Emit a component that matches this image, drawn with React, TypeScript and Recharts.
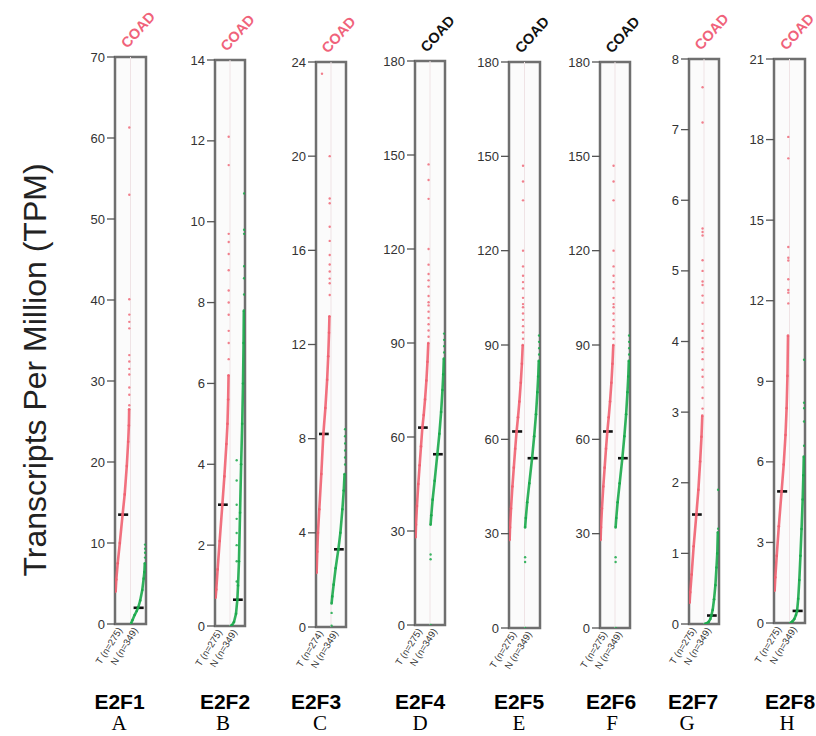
import React from 'react';
import { ScatterChart, Scatter, XAxis, YAxis, ReferenceArea, ReferenceLine } from 'recharts';

// each point is [rank inside its group 0..1, TPM]
type Pt = [number, number];

const genes = ['E2F1', 'E2F2', 'E2F3', 'E2F4', 'E2F5', 'E2F6', 'E2F7', 'E2F8'];
const letters = ['A', 'B', 'C', 'D', 'E', 'F', 'G', 'H'];
const tumorCounts = [275, 275, 274, 275, 275, 275, 275, 275];
const normalCounts = [349, 349, 349, 349, 349, 349, 349, 349];
const cancerType = 'COAD';
// COAD written in red where the gene is significantly different
const highlighted = [true, true, true, false, false, false, true, true];

const yMax = [70, 14, 24, 180, 180, 180, 8, 21];
const yTicks = [
  [0, 10, 20, 30, 40, 50, 60, 70],
  [0, 2, 4, 6, 8, 10, 12, 14],
  [0, 4, 8, 12, 16, 20, 24],
  [0, 30, 60, 90, 120, 150, 180],
  [0, 30, 60, 90, 120, 150, 180],
  [0, 30, 60, 90, 120, 150, 180],
  [0, 1, 2, 3, 4, 5, 6, 7, 8],
  [0, 3, 6, 9, 12, 15, 18, 21],
];

const tumorMedian = [13.5, 3.0, 8.2, 63, 62.5, 62.5, 1.55, 4.9];
const normalMedian = [2.0, 0.65, 3.3, 54.5, 54, 54, 0.12, 0.45];

const tumorStrip: Pt[][] = [
  [[0, 4], [0.05, 5.5], [0.15, 7.5], [0.3, 10], [0.5, 13.5], [0.65, 16], [0.8, 19.5], [0.9, 22.5], [0.95, 24.5], [0.97, 26.5]],
  [[0, 0.7], [0.05, 0.9], [0.15, 1.4], [0.3, 2.1], [0.5, 3.0], [0.65, 3.7], [0.8, 4.5], [0.88, 5.0], [0.93, 5.6], [0.96, 6.2]],
  [[0, 2.3], [0.05, 3.2], [0.1, 4.0], [0.2, 5.0], [0.35, 6.5], [0.5, 8.2], [0.65, 9.3], [0.78, 10.5], [0.86, 11.5], [0.92, 12.5], [0.95, 13.2]],
  [[0, 28], [0.03, 32], [0.1, 38], [0.2, 45], [0.3, 51], [0.4, 57], [0.5, 63], [0.6, 67], [0.7, 72], [0.8, 78], [0.88, 84], [0.94, 90]],
  [[0, 28], [0.03, 32], [0.1, 38], [0.2, 45], [0.3, 51], [0.4, 57], [0.5, 62.5], [0.6, 67], [0.7, 72], [0.8, 78], [0.88, 84], [0.94, 90]],
  [[0, 28], [0.03, 32], [0.1, 38], [0.2, 45], [0.3, 51], [0.4, 57], [0.5, 62.5], [0.6, 67], [0.7, 72], [0.8, 78], [0.88, 84], [0.94, 90]],
  [[0, 0.3], [0.05, 0.45], [0.15, 0.7], [0.3, 1.1], [0.5, 1.55], [0.65, 1.9], [0.78, 2.3], [0.88, 2.65], [0.94, 2.95]],
  [[0, 1.2], [0.05, 1.7], [0.15, 2.5], [0.3, 3.6], [0.5, 4.9], [0.65, 5.9], [0.78, 7.0], [0.86, 8.0], [0.92, 9.2], [0.96, 10.7]],
];

const tumorOutliers: Pt[][] = [
  [[0.98, 27], [0.98, 28.3], [0.98, 29.2], [0.98, 30.8], [0.98, 31.5], [0.98, 32.4], [0.98, 33.2], [0.98, 36.5], [0.98, 37.3], [0.98, 38.2], [0.98, 40.1], [0.98, 53], [0.98, 61.3]],
  [[0.97, 6.6], [0.97, 7.0], [0.97, 7.3], [0.97, 7.7], [0.97, 8.0], [0.97, 8.3], [0.97, 8.8], [0.97, 9.2], [0.97, 9.5], [0.97, 9.7], [0.97, 11.4], [0.97, 12.1]],
  [[0.97, 14.1], [0.97, 14.6], [0.97, 14.8], [0.97, 15.1], [0.97, 15.4], [0.97, 15.8], [0.97, 16.4], [0.97, 17.0], [0.97, 18.0], [0.97, 18.2], [0.97, 20.0], [0.4, 23.5]],
  [[0.96, 92], [0.96, 94], [0.96, 96], [0.96, 98], [0.96, 100], [0.96, 102], [0.96, 103], [0.96, 105], [0.96, 108], [0.96, 110], [0.96, 112], [0.96, 115], [0.96, 120], [0.96, 136], [0.96, 142], [0.96, 147]],
  [[0.96, 92], [0.96, 94], [0.96, 96], [0.96, 98], [0.96, 100], [0.96, 102], [0.96, 103], [0.96, 105], [0.96, 108], [0.96, 110], [0.96, 112], [0.96, 115], [0.96, 120], [0.96, 136], [0.96, 142], [0.96, 147]],
  [[0.96, 92], [0.96, 94], [0.96, 96], [0.96, 98], [0.96, 100], [0.96, 102], [0.96, 103], [0.96, 105], [0.96, 108], [0.96, 110], [0.96, 112], [0.96, 115], [0.96, 120], [0.96, 136], [0.96, 142], [0.96, 147]],
  [[0.96, 3.05], [0.96, 3.2], [0.96, 3.35], [0.96, 3.5], [0.96, 3.6], [0.96, 3.75], [0.96, 3.85], [0.96, 3.9], [0.96, 4.05], [0.96, 4.15], [0.96, 4.25], [0.96, 4.55], [0.96, 4.65], [0.96, 4.8], [0.96, 4.85], [0.96, 5.0], [0.96, 5.15], [0.96, 5.5], [0.96, 5.55], [0.96, 5.6], [0.96, 7.1], [0.96, 7.6]],
  [[0.98, 11.9], [0.98, 12.3], [0.98, 12.4], [0.98, 12.8], [0.98, 13.5], [0.98, 13.6], [0.98, 14.0], [0.98, 17.3], [0.98, 18.1]],
];

const normalStrip: Pt[][] = [
  [[0, 0.1], [0.1, 0.5], [0.25, 1.1], [0.4, 1.6], [0.5, 2.0], [0.65, 2.9], [0.8, 4.2], [0.9, 5.6], [0.95, 6.4], [0.98, 7.5]],
  [[0, 0], [0.1, 0.02], [0.25, 0.1], [0.4, 0.3], [0.5, 0.65], [0.55, 1.0], [0.62, 1.6], [0.7, 2.8], [0.78, 4.0], [0.86, 5.0], [0.92, 6.0], [0.96, 7.0], [0.98, 7.8]],
  [[0, 1.0], [0.05, 1.3], [0.15, 1.8], [0.3, 2.5], [0.5, 3.3], [0.65, 4.0], [0.8, 5.0], [0.9, 5.8], [0.96, 6.5]],
  [[0, 32], [0.05, 35], [0.15, 40], [0.3, 46], [0.5, 54.5], [0.65, 61], [0.78, 68], [0.88, 75], [0.94, 80], [0.98, 85]],
  [[0, 32], [0.05, 35], [0.15, 40], [0.3, 46], [0.5, 54], [0.65, 61], [0.78, 68], [0.88, 75], [0.94, 80], [0.98, 85]],
  [[0, 32], [0.05, 35], [0.15, 40], [0.3, 46], [0.5, 54], [0.65, 61], [0.78, 68], [0.88, 75], [0.94, 80], [0.98, 85]],
  [[0, 0], [0.15, 0.01], [0.3, 0.03], [0.42, 0.07], [0.5, 0.12], [0.6, 0.2], [0.7, 0.35], [0.8, 0.55], [0.88, 0.8], [0.94, 1.0], [0.98, 1.3]],
  [[0, 0], [0.15, 0.05], [0.3, 0.15], [0.42, 0.3], [0.5, 0.45], [0.58, 0.9], [0.66, 1.6], [0.74, 2.5], [0.82, 3.5], [0.9, 4.6], [0.95, 5.5], [0.98, 6.2]],
];

const normalOutliers: Pt[][] = [
  [[1, 8.2], [1, 8.8], [1, 9.3], [1, 9.8]],
  [[0.45, 1.1], [0.45, 1.6], [0.45, 2.0], [0.45, 2.3], [0.45, 2.65], [0.45, 3.0], [0.45, 3.6], [0.45, 4.1], [1, 8.2], [1, 8.6], [1, 8.9], [1, 9.7], [1, 9.8], [1, 10.7]],
  [[0, 0.05], [0, 0.6], [1, 6.9], [1, 7.2], [1, 7.5], [1, 7.8], [1, 8.1], [1, 8.4]],
  [[0, 0], [0, 21], [0, 22.5], [1, 87], [1, 89], [1, 91], [1, 93]],
  [[0, 0], [0, 21], [0, 22.5], [1, 87], [1, 89], [1, 91], [1, 93]],
  [[0, 0], [0, 21], [0, 22.5], [1, 87], [1, 89], [1, 91], [1, 93]],
  [[1, 1.35], [1, 1.9]],
  [[1, 6.6], [1, 7.5], [1, 8.0], [1, 8.2], [1, 9.8]],
];

// page layout of each panel's frame, in pixels
const boxes = [
  { left: 115, right: 146, top: 57, bottom: 624 },
  { left: 215, right: 245, top: 60, bottom: 626 },
  { left: 316, right: 346, top: 62, bottom: 627 },
  { left: 415, right: 445, top: 61, bottom: 625 },
  { left: 509, right: 540, top: 62, bottom: 628 },
  { left: 600, right: 630, top: 62, bottom: 628 },
  { left: 689, right: 719, top: 59, bottom: 624 },
  { left: 774, right: 805, top: 59, bottom: 623 },
];
const geneX = [119.5, 225, 316, 420, 519, 611, 693, 790];
const letterX = [119, 223, 320, 420, 519, 612, 687, 787];

const RED = '#ef6070';
const GREEN = '#1aa94a';
const COAD_RED = '#f0627a';
const SANS = '"Liberation Sans", Arial, Helvetica, sans-serif';
const SERIF = '"Liberation Serif", "Times New Roman", serif';
const H = 736;
const AXIS_W = 44;
const XAXIS_H = 60;

const toPoints = (pts: Pt[], group: number) =>
  pts.map(([r, v]) => ({ x: group + 0.04 + r * 0.9, y: v }));

const dot = (fill: string, r: number, opacity: number) => (props: any) =>
  props.cx == null ? <g /> : <circle cx={props.cx} cy={props.cy} r={r} fill={fill} fillOpacity={opacity} />;

function Panel({ i }: { i: number }) {
  const box = boxes[i];
  const w = box.right - box.left;
  const chartW = AXIS_W + w + 4;
  const max = yMax[i];
  const sampleLabels = [`T (n=${tumorCounts[i]})`, `N (n=${normalCounts[i]})`];

  const SampleTick = (props: any) => {
    const { x, payload } = props;
    const y = box.bottom + 6;
    const label = payload.value < 1 ? sampleLabels[0] : sampleLabels[1];
    return (
      <text
        x={x}
        y={y}
        transform={`rotate(-58 ${x} ${y})`}
        textAnchor="end"
        fontSize={9.5}
        fontFamily={SANS}
        fill="#333"
      >
        {label}
      </text>
    );
  };

  return (
    <div style={{ position: 'absolute', left: box.left - AXIS_W, top: 0 }}>
      <ScatterChart
        width={chartW}
        height={H}
        margin={{ top: box.top, right: 4, bottom: H - box.bottom - XAXIS_H, left: 0 }}
      >
        <XAxis
          type="number"
          dataKey="x"
          domain={[0, 2]}
          ticks={[0.5, 1.5]}
          interval={0}
          height={XAXIS_H}
          axisLine={false}
          tickLine={false}
          tick={<SampleTick />}
          allowDataOverflow
        />
        <YAxis
          type="number"
          dataKey="y"
          domain={[0, max]}
          ticks={yTicks[i]}
          interval={0}
          width={AXIS_W}
          axisLine={false}
          tickSize={8}
          tickLine={{ stroke: '#555', strokeWidth: 1.3 }}
          tick={{ fontSize: 13, fill: '#333', fontFamily: SANS }}
          allowDataOverflow
        />
        <ReferenceArea x1={0} x2={2} y1={0} y2={max} fill="#fbfbfb" fillOpacity={1} stroke="#6f6f6f" strokeWidth={2.5} />
        <ReferenceLine x={1} stroke="#efe3e5" strokeWidth={1} />
        <Scatter
          data={toPoints(tumorStrip[i], 0)}
          line={{ stroke: RED, strokeWidth: 2.6, strokeOpacity: 0.9 }}
          lineJointType="linear"
          shape={dot(RED, 1.3, 0.9)}
          isAnimationActive={false}
        />
        <Scatter data={toPoints(tumorOutliers[i], 0)} shape={dot(RED, 1.2, 0.8)} isAnimationActive={false} />
        <Scatter
          data={toPoints(normalStrip[i], 1)}
          line={{ stroke: GREEN, strokeWidth: 2.6, strokeOpacity: 0.9 }}
          lineJointType="linear"
          shape={dot(GREEN, 1.3, 0.9)}
          isAnimationActive={false}
        />
        <Scatter data={toPoints(normalOutliers[i], 1)} shape={dot(GREEN, 1.2, 0.85)} isAnimationActive={false} />
        <ReferenceLine segment={[{ x: 0.2, y: tumorMedian[i] }, { x: 0.85, y: tumorMedian[i] }]} stroke="#111" strokeWidth={2.6} />
        <ReferenceLine segment={[{ x: 1.2, y: normalMedian[i] }, { x: 1.85, y: normalMedian[i] }]} stroke="#111" strokeWidth={2.6} />
      </ScatterChart>
    </div>
  );
}

export default function App() {
  return (
    <div style={{ position: 'absolute', left: 0, top: 0, width: 816, height: H, background: '#fff', overflow: 'hidden' }}>
      {genes.map((g, i) => (
        <Panel key={g} i={i} />
      ))}
      <svg width={816} height={H} style={{ position: 'absolute', left: 0, top: 0, pointerEvents: 'none' }}>
        <text
          x={46}
          y={370}
          transform="rotate(-90 46 370)"
          textAnchor="middle"
          fontSize={32}
          fontFamily={SANS}
          fill="#222"
        >
          Transcripts Per Million (TPM)
        </text>
        {genes.map((g, i) => {
          const box = boxes[i];
          const cx = (box.left + box.right) / 2 - 3;
          const cy = box.top - 8;
          return (
            <g key={g}>
              <text
                x={cx}
                y={cy}
                transform={`rotate(-48 ${cx} ${cy})`}
                fontSize={14.5}
                fontWeight="bold"
                fontFamily={SANS}
                fill={highlighted[i] ? COAD_RED : '#111'}
              >
                {cancerType}
              </text>
              <text x={geneX[i]} y={709} textAnchor="middle" fontSize={21} fontWeight="bold" fontFamily={SANS} fill="#000">
                {g}
              </text>
              <text x={letterX[i]} y={730} textAnchor="middle" fontSize={21} fontFamily={SERIF} fill="#000">
                {letters[i]}
              </text>
            </g>
          );
        })}
      </svg>
    </div>
  );
}
